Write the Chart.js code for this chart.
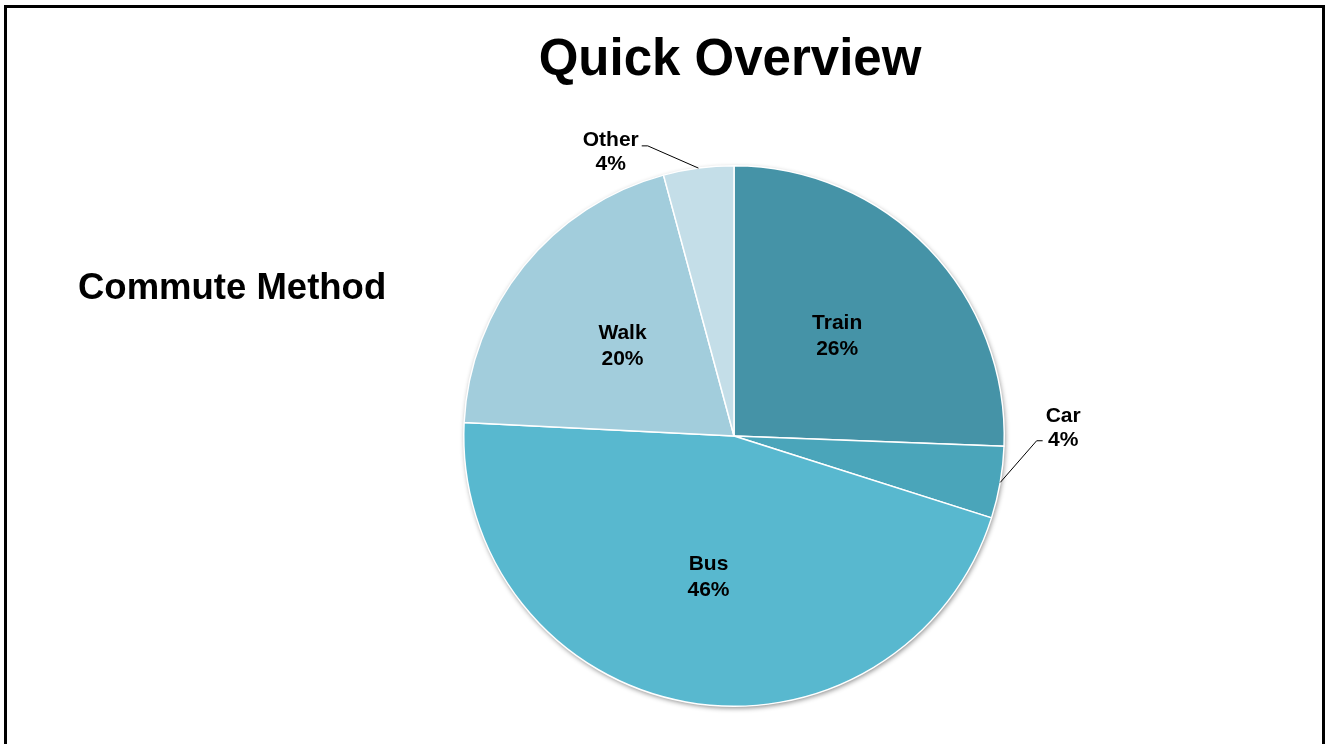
<!DOCTYPE html>
<html>
<head>
<meta charset="utf-8">
<script src="https://cdn.jsdelivr.net/npm/chart.js@4.4.1/dist/chart.umd.min.js"></script>
<style>
  html, body { margin: 0; padding: 0; background: #ffffff; overflow: hidden; }
  #wrap { position: relative; width: 1326px; height: 744px; }
</style>
</head>
<body>
<div id="wrap"><canvas id="c" width="1326" height="744"></canvas></div>
<script>
const chartTitle = 'Quick Overview';
const sideTitle = 'Commute Method';
const categories = ['Train', 'Car', 'Bus', 'Walk', 'Other'];
const shares = [25.6, 4.3, 45.9, 20.0, 4.2];
const percentLabels = ['26%', '4%', '46%', '20%', '4%'];
const sliceColors = ['#4593a7', '#4aa5ba', '#58b8cf', '#a2cddc', '#c4dee8'];

const FONT = '"Liberation Sans", Arial, Helvetica, sans-serif';

const framePlugin = {
  id: 'frame',
  beforeDraw(chart) {
    const ctx = chart.ctx;
    ctx.save();
    ctx.fillStyle = '#ffffff';
    ctx.fillRect(0, 0, chart.width, chart.height);
    ctx.strokeStyle = '#000000';
    ctx.lineWidth = 3;
    ctx.beginPath();
    ctx.moveTo(5.5, chart.height + 10);
    ctx.lineTo(5.5, 6.5);
    ctx.lineTo(1323.5, 6.5);
    ctx.lineTo(1323.5, chart.height + 10);
    ctx.stroke();
    ctx.fillStyle = '#000000';
    ctx.textAlign = 'center';
    ctx.textBaseline = 'alphabetic';
    ctx.font = 'bold 51px ' + FONT;
    ctx.fillText(chartTitle, 730, 75);
    ctx.textAlign = 'left';
    ctx.font = 'bold 36.5px ' + FONT;
    ctx.fillText(sideTitle, 78, 299);
    ctx.restore();
  },
  beforeDatasetsDraw(chart) {
    const meta = chart.getDatasetMeta(0);
    if (!meta.data.length) return;
    const a = meta.data[0].getProps(['x', 'y', 'outerRadius'], true);
    const ctx = chart.ctx;
    ctx.save();
    ctx.shadowColor = 'rgba(0,0,0,0.45)';
    ctx.shadowBlur = 5;
    ctx.shadowOffsetX = 1;
    ctx.shadowOffsetY = 2;
    ctx.fillStyle = '#cccccc';
    ctx.beginPath();
    ctx.arc(a.x, a.y, a.outerRadius, 0, Math.PI * 2);
    ctx.fill();
    ctx.restore();
  },
  afterDatasetsDraw(chart) {
    const meta = chart.getDatasetMeta(0);
    const ctx = chart.ctx;
    ctx.save();
    ctx.font = 'bold 21px ' + FONT;
    ctx.fillStyle = '#000000';
    ctx.textBaseline = 'middle';
    meta.data.forEach((arc, i) => {
      const p = arc.getProps(['x', 'y', 'startAngle', 'endAngle', 'outerRadius'], true);
      const mid = (p.startAngle + p.endAngle) / 2;
      const span = p.endAngle - p.startAngle;
      const name = categories[i];
      const pct = percentLabels[i];
      if (span > 0.4) {
        const r = p.outerRadius * 0.53;
        const cx = p.x + Math.cos(mid) * r;
        const cy = p.y + Math.sin(mid) * r;
        ctx.textAlign = 'center';
        ctx.fillText(name, cx, cy - 13);
        ctx.fillText(pct, cx, cy + 13);
      } else {
        const sx = p.x + Math.cos(mid) * p.outerRadius;
        const sy = p.y + Math.sin(mid) * p.outerRadius;
        const ea = mid - 9 * Math.PI / 180;
        const er = p.outerRadius * 1.12;
        const ex = p.x + Math.cos(ea) * er;
        const ey = p.y + Math.sin(ea) * er;
        const dir = Math.cos(ea) >= 0 ? 1 : -1;
        const tx = ex + dir * 6;
        ctx.strokeStyle = '#000000';
        ctx.lineWidth = 1;
        ctx.beginPath();
        ctx.moveTo(sx, sy);
        ctx.lineTo(ex, ey);
        ctx.lineTo(tx, ey);
        ctx.stroke();
        const w = Math.max(ctx.measureText(name).width, ctx.measureText(pct).width);
        const bx = tx + dir * (3 + w / 2);
        const by = ey + (Math.sin(ea) < 0 ? 6 : -13);
        ctx.textAlign = 'center';
        ctx.fillText(name, bx, by - 12);
        ctx.fillText(pct, bx, by + 12);
      }
    });
    ctx.restore();
  }
};

new Chart(document.getElementById('c'), {
  type: 'pie',
  data: {
    labels: categories,
    datasets: [{
      data: shares,
      backgroundColor: sliceColors,
      borderColor: '#ffffff',
      borderWidth: 1.5
    }]
  },
  options: {
    responsive: false,
    animation: false,
    layout: { padding: { top: 165, bottom: 37, left: 462, right: 320 } },
    plugins: {
      legend: { display: false },
      title: { display: false },
      tooltip: { enabled: false }
    }
  },
  plugins: [framePlugin]
});
</script>
</body>
</html>
